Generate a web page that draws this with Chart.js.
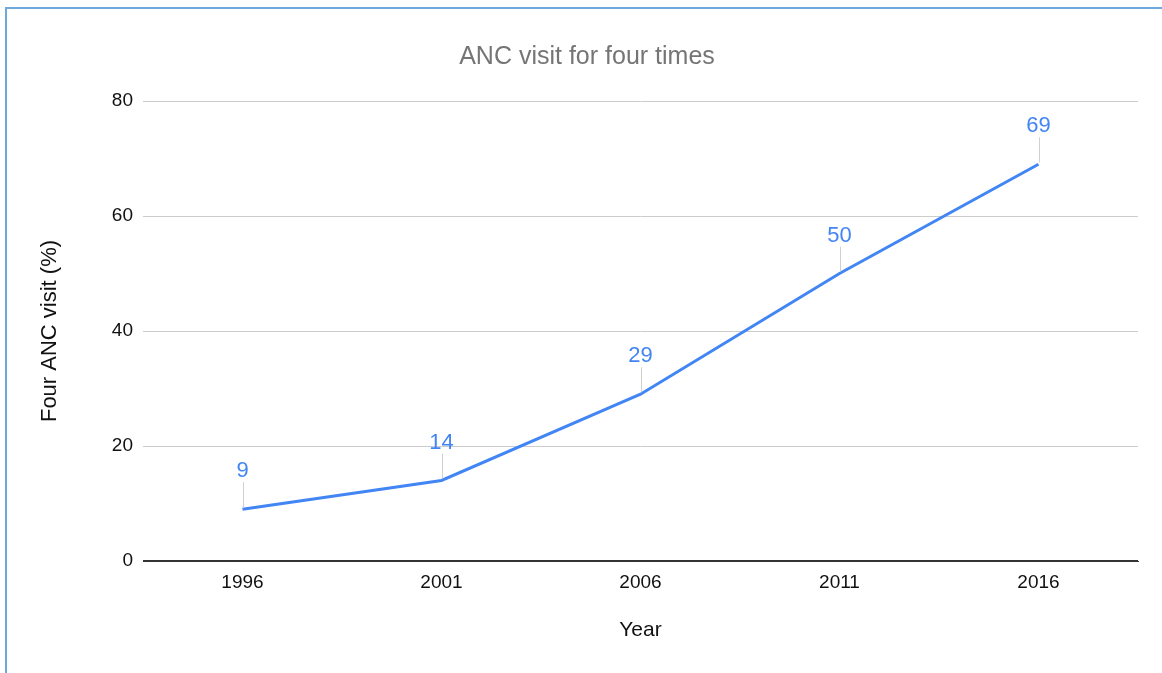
<!DOCTYPE html>
<html lang="en">
<head>
    <meta charset="UTF-8">
    <title>ANC visit for four times</title>
    <script src="https://cdn.jsdelivr.net/npm/chart.js"></script>
    <style>
        html, body {
            margin: 0;
            padding: 0;
            background: #ffffff;
            overflow: hidden;
            width: 1162px;
            height: 673px;
        }
        /* blue selection frame around the sheet chart */
        .frame {
            position: absolute;
            left: 5px;
            top: 7px;
            width: 1300px;
            height: 800px;
            border: 2px solid #6fa8dc;
        }
        #ancChart {
            position: absolute;
            left: 0;
            top: 0;
        }
    </style>
</head>
<body>
    <div class="frame"></div>
    <canvas id="ancChart" width="1162" height="673"></canvas>

    <script>
        // chart data
        var years = ["1996", "2001", "2006", "2011", "2016"];
        var ancValues = [9, 14, 29, 50, 69];
        var yMin = 0, yMax = 80, yStep = 20;

        var lineColor = '#4285f4';
        var fontFamily = '"Liberation Sans", Arial, sans-serif';

        // value labels above points with a small gray leader line
        var pointLabels = {
            id: 'pointLabels',
            afterDatasetsDraw: function (chart) {
                var ctx = chart.ctx;
                var meta = chart.getDatasetMeta(0);
                ctx.save();
                meta.data.forEach(function (pt, i) {
                    ctx.strokeStyle = '#d0d0d0';
                    ctx.lineWidth = 1;
                    ctx.beginPath();
                    ctx.moveTo(Math.round(pt.x) + 0.5, pt.y - 2);
                    ctx.lineTo(Math.round(pt.x) + 0.5, pt.y - 27);
                    ctx.stroke();
                    ctx.fillStyle = lineColor;
                    ctx.font = '22px ' + fontFamily;
                    ctx.textAlign = 'center';
                    ctx.textBaseline = 'middle';
                    ctx.fillText(String(ancValues[i]), pt.x, pt.y - 38);
                });
                ctx.restore();
            }
        };

        var ctx = document.getElementById('ancChart').getContext('2d');
        var ancChart = new Chart(ctx, {
            type: 'line',
            data: {
                labels: years,
                datasets: [{
                    label: 'Four ANC visit (%)',
                    data: ancValues,
                    borderColor: lineColor,
                    backgroundColor: lineColor,
                    borderWidth: 3,
                    pointRadius: 0,
                    tension: 0,
                    fill: false
                }]
            },
            options: {
                responsive: false,
                animation: false,
                layout: { padding: { left: 36, right: 24, top: 0, bottom: 0 } },
                plugins: {
                    legend: { display: false },
                    tooltip: { enabled: false },
                    title: {
                        display: true,
                        text: 'ANC visit for four times',
                        color: '#757575',
                        font: { family: fontFamily, size: 25, weight: 'normal' },
                        padding: { top: 42, bottom: 29 }
                    }
                },
                scales: {
                    x: {
                        offset: true,
                        grid: { display: false, drawTicks: false },
                        border: { display: true, color: '#333333', width: 1 },
                        ticks: {
                            color: '#111111',
                            font: { family: fontFamily, size: 19 },
                            padding: 10,
                            maxRotation: 0
                        },
                        title: {
                            display: true,
                            text: 'Year',
                            color: '#111111',
                            font: { family: fontFamily, size: 21 },
                            padding: { top: 0, bottom: 30 }
                        },
                        afterFit: function (scale) { scale.height = 112; }
                    },
                    y: {
                        min: yMin,
                        max: yMax,
                        ticks: {
                            stepSize: yStep,
                            color: '#111111',
                            font: { family: fontFamily, size: 19 },
                            padding: 10
                        },
                        grid: {
                            drawTicks: false,
                            color: function (c) { return c.tick && c.tick.value === 0 ? '#333333' : '#cccccc'; },
                            lineWidth: function (c) { return c.tick && c.tick.value === 0 ? 1.5 : 1; }
                        },
                        border: { display: false },
                        title: {
                            display: true,
                            text: 'Four ANC visit (%)',
                            color: '#111111',
                            font: { family: fontFamily, size: 22 },
                            padding: { top: 1, bottom: 0 }
                        },
                        afterFit: function (scale) { scale.width = 107; }
                    }
                }
            },
            plugins: [pointLabels]
        });
    </script>
</body>
</html>
